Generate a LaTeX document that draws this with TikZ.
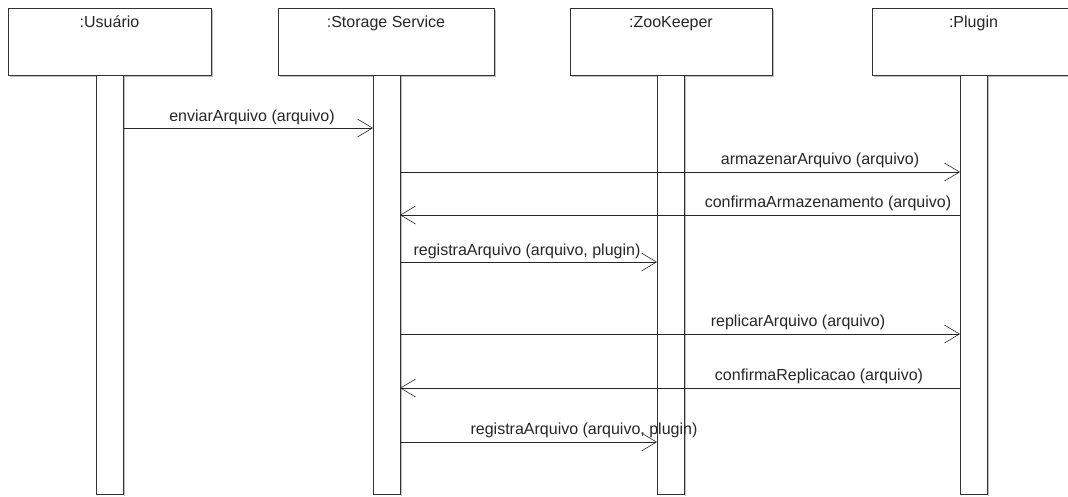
\documentclass[tikz,border=0pt]{standalone}
\usepackage{fontspec}
\setmainfont{Liberation Sans}
\usetikzlibrary{arrows.meta}
\begin{document}
\begin{tikzpicture}[x=1pt,y=-1pt,
  every node/.style={inner sep=0pt,outer sep=0pt},
  lbl/.style={font=\fontsize{16}{17}\selectfont,anchor=base,text=black!85},
  objbox/.style={draw=black!80,line width=0.9pt,fill=white,rectangle,minimum height=67pt,anchor=north west},
  lifebar/.style={draw=black!80,line width=0.9pt,fill=white,rectangle,minimum width=27pt,minimum height=419pt,anchor=north},
  shadowline/.style={draw=black!25,line width=1pt},
  msg/.style={draw=black!85,line width=0.8pt,-{Straight Barb[length=15pt,width=18pt,line width=0.6pt]}}
]
\useasboundingbox (0,0) rectangle (1068,496);
% shadows
\draw[shadowline] (212,10) -- (212,76.5) -- (10,76.5);
\draw[shadowline] (495.5,10) -- (495.5,76.5) -- (280,76.5);
\draw[shadowline] (773.5,10) -- (773.5,76.5) -- (572,76.5);
\draw[shadowline] (1070,76.5) -- (874,76.5);
\draw[shadowline] (124.5,77) -- (124.5,495.5);
\draw[shadowline] (401.5,77) -- (401.5,495.5);
\draw[shadowline] (685.5,77) -- (685.5,495.5);
\draw[shadowline] (988.5,77) -- (988.5,495.5);
% object boxes
\node[objbox,minimum width=203pt] (usr) at (8,8) {};
\node[objbox,minimum width=216pt] (sto) at (278,8) {};
\node[objbox,minimum width=202pt] (zoo) at (570,8) {};
\node[objbox,minimum width=203pt] (plg) at (872,8) {};
\node[lbl] (usrt) at (usr.north |- 0,27) {:Usuário};
\node[lbl] (stot) at (sto.north |- 0,27) {:Storage Service};
\node[lbl] (zoot) at (zoo.north |- 0,27) {:ZooKeeper};
\node[lbl] (plgt) at (plg.north |- 0,27) {:Plugin};
% activation bars
\node[lifebar] (ub) at (110,75) {};
\node[lifebar] (sb) at (386.5,75) {};
\node[lifebar] (zb) at (670.5,75) {};
\node[lifebar] (pb) at (973.5,75) {};
% messages
\draw[msg] (ub.east |- 0,128) -- (sb.west |- 0,128);
\node[lbl] (m1) at (252,121) {enviarArquivo (arquivo)};
\draw[msg] (sb.east |- 0,172) -- (pb.west |- 0,172);
\node[lbl] (m2) at (820,164) {armazenarArquivo (arquivo)};
\draw[msg] (pb.west |- 0,215) -- (sb.east |- 0,215);
\node[lbl] (m3) at (828,207) {confirmaArmazenamento (arquivo)};
\draw[msg] (sb.east |- 0,262) -- (zb.west |- 0,262);
\node[lbl] (m4) at (527,255) {registraArquivo (arquivo, plugin)};
\draw[msg] (sb.east |- 0,334) -- (pb.west |- 0,334);
\node[lbl] (m5) at (798,326) {replicarArquivo (arquivo)};
\draw[msg] (pb.west |- 0,388) -- (sb.east |- 0,388);
\node[lbl] (m6) at (819,380) {confirmaReplicacao (arquivo)};
\draw[msg] (sb.east |- 0,442) -- (zb.west |- 0,442);
\node[lbl] (m7) at (584,434) {registraArquivo (arquivo, plugin)};
\end{tikzpicture}
\end{document}
